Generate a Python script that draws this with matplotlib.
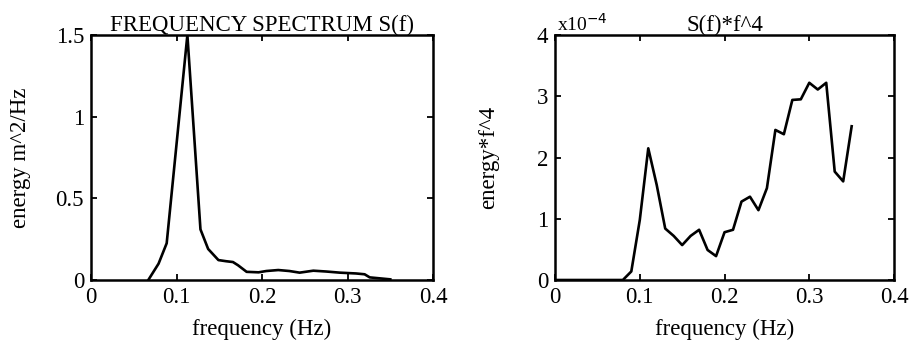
import matplotlib
matplotlib.use("Agg")
import matplotlib.pyplot as plt

plt.rcParams['font.family'] = ['Liberation Serif', 'DejaVu Serif']

# Left panel: frequency spectrum S(f)
freq_s = [0.067, 0.079, 0.0885, 0.1127, 0.128, 0.137, 0.149, 0.158, 0.166, 0.172,
          0.182, 0.196, 0.205, 0.219, 0.232, 0.244, 0.26, 0.275, 0.291, 0.31,
          0.32, 0.326, 0.35]
energy_s = [0.0, 0.10, 0.225, 1.5, 0.31, 0.19, 0.122, 0.115, 0.11, 0.09,
            0.05, 0.047, 0.055, 0.061, 0.055, 0.045, 0.057, 0.052, 0.045, 0.04,
            0.035, 0.016, 0.004]

# Right panel: S(f)*f^4, values in units of 1e-4
freq_f4 = [0.0, 0.08, 0.09, 0.10, 0.11, 0.12, 0.13, 0.14, 0.15, 0.16, 0.17, 0.18,
           0.19, 0.20, 0.21, 0.22, 0.23, 0.24, 0.25, 0.26, 0.27, 0.28, 0.29,
           0.30, 0.31, 0.32, 0.33, 0.34, 0.35]
energy_f4_e4 = [0.0, 0.0, 0.14, 0.98, 2.15, 1.55, 0.84, 0.72, 0.57, 0.72, 0.82, 0.49,
                0.39, 0.78, 0.82, 1.28, 1.36, 1.14, 1.5, 2.45, 2.38, 2.94, 2.95,
                3.22, 3.11, 3.22, 1.77, 1.61, 2.51]

x_ticks = [0, 0.1, 0.2, 0.3, 0.4]
x_ticklabels = ['0', '0.1', '0.2', '0.3', '0.4']
y_ticks_left = [0, 0.5, 1, 1.5]
y_ticklabels_left = ['0', '0.5', '1', '1.5']
y_ticks_right = [0, 1, 2, 3, 4]
y_ticklabels_right = ['0', '1', '2', '3', '4']

fig = plt.figure(figsize=(9.12, 3.49), dpi=100)
ax1 = fig.add_axes([0.0998, 0.1977, 0.375, 0.702])
ax2 = fig.add_axes([0.6086, 0.1977, 0.3717, 0.702])

fs = 16.5

def style(ax):
    for s in ax.spines.values():
        s.set_linewidth(1.8)
        s.set_color('black')
    ax.tick_params(direction='in', length=4, width=1.3, top=True, right=True,
                   labelsize=fs, pad=5, colors='black')

ax1.plot(freq_s, energy_s, color='black', lw=1.9)
ax1.set_xlim(0, 0.4)
ax1.set_ylim(0, 1.5)
ax1.set_xticks(x_ticks)
ax1.set_xticklabels(x_ticklabels)
ax1.set_yticks(y_ticks_left)
ax1.set_yticklabels(y_ticklabels_left)
style(ax1)
ax1.set_title('FREQUENCY SPECTRUM S(f)', fontsize=fs, pad=3)
ax1.set_xlabel('frequency (Hz)', fontsize=fs, labelpad=8)
ax1.set_ylabel('energy m^2/Hz', fontsize=fs, labelpad=18)

ax2.plot(freq_f4, energy_f4_e4, color='black', lw=1.9)
ax2.set_xlim(0, 0.4)
ax2.set_ylim(0, 4)
ax2.set_xticks(x_ticks)
ax2.set_xticklabels(x_ticklabels)
ax2.set_yticks(y_ticks_right)
ax2.set_yticklabels(y_ticklabels_right)
style(ax2)
ax2.set_title('S(f)*f^4', fontsize=fs, pad=3)
ax2.set_xlabel('frequency (Hz)', fontsize=fs, labelpad=8)
ax2.set_ylabel('energy*f^4', fontsize=fs, labelpad=27)
ax2.text(0.005, 1.0, 'x10$^{-4}$', transform=ax2.transAxes, fontsize=14,
         ha='left', va='bottom')

fig.savefig('out.png', dpi=100)
